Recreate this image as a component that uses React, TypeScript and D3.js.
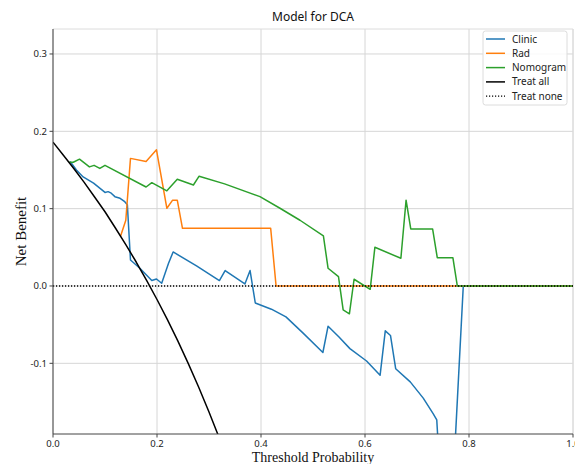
import React from "react";
import * as d3 from "d3";

// thresholds / net benefit
const clinicT = [0.033, 0.045, 0.058, 0.078, 0.1, 0.106, 0.112, 0.119, 0.129, 0.138, 0.143, 0.149, 0.167, 0.19, 0.199, 0.209, 0.222, 0.231, 0.276, 0.32, 0.331, 0.369, 0.379, 0.389, 0.42, 0.448, 0.481, 0.519, 0.529, 0.55, 0.571, 0.603, 0.629, 0.639, 0.649, 0.659, 0.687, 0.712, 0.731, 0.738, 0.742, 0.772, 0.789, 1.0];
const clinicNB = [0.161, 0.15, 0.141, 0.133, 0.121, 0.122, 0.12, 0.1155, 0.1134, 0.109, 0.105, 0.0336, 0.023, 0.007, 0.009, 0.0035, 0.029, 0.044, 0.026, 0.007, 0.02, 0.0026, 0.02, -0.022, -0.03, -0.04, -0.061, -0.086, -0.052, -0.066, -0.081, -0.097, -0.1155, -0.058, -0.064, -0.107, -0.124, -0.145, -0.165, -0.173, -0.22, -0.22, 0, 0];

const radT = [0.13, 0.14, 0.149, 0.179, 0.199, 0.219, 0.23, 0.239, 0.249, 0.4186, 0.429, 1.0];
const radNB = [0.0647, 0.085, 0.165, 0.161, 0.176, 0.1005, 0.111, 0.111, 0.0746, 0.0746, 0, 0];

const nomoT = [0.031, 0.039, 0.051, 0.07, 0.079, 0.09, 0.1, 0.179, 0.19, 0.219, 0.239, 0.27, 0.281, 0.33, 0.398, 0.4365, 0.475, 0.52, 0.529, 0.549, 0.558, 0.57, 0.579, 0.61, 0.619, 0.669, 0.679, 0.688, 0.73, 0.739, 0.769, 0.7775, 1.0];
const nomoNB = [0.16, 0.16, 0.164, 0.154, 0.156, 0.152, 0.156, 0.128, 0.1336, 0.123, 0.138, 0.1306, 0.142, 0.132, 0.1155, 0.1005, 0.085, 0.0647, 0.0229, 0.012, -0.031, -0.036, 0.0087, -0.0043, 0.05, 0.0358, 0.111, 0.0737, 0.0737, 0.0366, 0.0366, 0, 0];

const allT = [0, 0.02, 0.04, 0.06, 0.08, 0.1, 0.12, 0.14, 0.16, 0.18, 0.2, 0.22, 0.24, 0.26, 0.28, 0.3, 0.32];
const allNB = [0.186, 0.169, 0.152, 0.134, 0.115, 0.096, 0.075, 0.0535, 0.031, 0.0073, -0.0175, -0.0436, -0.071, -0.1, -0.1306, -0.1629, -0.197];

const noneT = [0, 1];
const noneNB = [0, 0];

const xTicks = [0, 0.2, 0.4, 0.6, 0.8, 1.0];
const yTicks = [-0.1, 0, 0.1, 0.2, 0.3];

const series = [
    { name: "Clinic", t: clinicT, nb: clinicNB, color: "#1f77b4", dash: "" },
    { name: "Rad", t: radT, nb: radNB, color: "#ff7f0e", dash: "" },
    { name: "Nomogram", t: nomoT, nb: nomoNB, color: "#2ca02c", dash: "" },
    { name: "Treat all", t: allT, nb: allNB, color: "#000000", dash: "" },
    { name: "Treat none", t: noneT, nb: noneNB, color: "#000000", dash: "1.2,1.8" },
];

const W = 575, H = 464;
const left = 53, right = 573, top = 29, bottom = 434;

export default function App() {
    const x = d3.scaleLinear().domain([0, 1]).range([left, right]);
    const y = d3.scaleLinear().domain([-0.1914, 0.3323]).range([bottom, top]);
    const line = d3.line<[number, number]>().x(d => x(d[0])).y(d => y(d[1]));

    const sans = "'Noto Sans', 'DejaVu Sans', sans-serif";
    const serif = "'Liberation Serif', 'Times New Roman', serif";

    return (
        <svg width={W} height={H} style={{ position: "absolute", left: 0, top: 0 }} fontFamily={sans}>
            <rect width={W} height={H} fill="#fff" />
            <defs>
                <clipPath id="plot">
                    <rect x={left} y={top} width={right - left} height={bottom - top} />
                </clipPath>
            </defs>
            {xTicks.map(t => (
                <line key={"gx" + t} x1={x(t)} x2={x(t)} y1={top} y2={bottom} stroke="#d6d6d6" strokeWidth={1} />
            ))}
            {yTicks.map(t => (
                <line key={"gy" + t} x1={left} x2={right} y1={y(t)} y2={y(t)} stroke="#d6d6d6" strokeWidth={1} />
            ))}
            <line x1={left} x2={right} y1={top} y2={top} stroke="#dcdcdc" />
            <line x1={right} x2={right} y1={top} y2={bottom} stroke="#dcdcdc" />

            <g clipPath="url(#plot)">
                {series.map(s => (
                    <path key={s.name}
                        d={line(s.t.map((t, i) => [t, s.nb[i]] as [number, number])) || ""}
                        fill="none" stroke={s.color}
                        strokeWidth={s.dash ? 1.3 : 1.5}
                        strokeDasharray={s.dash || undefined}
                        strokeLinejoin="round" />
                ))}
            </g>

            <line x1={left} x2={left} y1={top} y2={bottom} stroke="#444" strokeWidth={1} />
            <line x1={left} x2={right} y1={bottom} y2={bottom} stroke="#444" strokeWidth={1} />
            {xTicks.map(t => (
                <g key={"xt" + t}>
                    <line x1={x(t)} x2={x(t)} y1={bottom} y2={bottom + 3.5} stroke="#444" />
                    <text x={x(t)} y={bottom + 12.5} textAnchor="middle" fontSize={9.5} fill="#222">{t.toFixed(1)}</text>
                </g>
            ))}
            {yTicks.map(t => (
                <g key={"yt" + t}>
                    <line x1={left - 3.5} x2={left} y1={y(t)} y2={y(t)} stroke="#444" />
                    <text x={left - 6} y={y(t) + 3.5} textAnchor="end" fontSize={9.5} fill="#222">{t.toFixed(1)}</text>
                </g>
            ))}

            <text x={(left + right) / 2} y={21} textAnchor="middle" fontSize={12} fill="#111">Model for DCA</text>
            <text x={(left + right) / 2} y={461.5} textAnchor="middle" fontSize={14} fontFamily={serif} fill="#111">Threshold Probability</text>
            <text transform={`translate(26, ${(top + bottom) / 2}) rotate(-90)`} textAnchor="middle" fontSize={15} fontFamily={serif} fill="#111">Net Benefit</text>

            <g>
                <rect x={483} y={31} width={84} height={74} rx={2.5} fill="#fff" fillOpacity={0.85} stroke="#dcdcdc" />
                {series.map((s, i) => (
                    <g key={"lg" + s.name}>
                        <line x1={486} x2={505} y1={39 + i * 14.3} y2={39 + i * 14.3} stroke={s.color}
                            strokeWidth={s.dash ? 1.3 : 1.5} strokeDasharray={s.dash || undefined} />
                        <text x={512} y={39 + i * 14.3 + 3.5} fontSize={10} fill="#222">{s.name}</text>
                    </g>
                ))}
            </g>
        </svg>
    );
}
